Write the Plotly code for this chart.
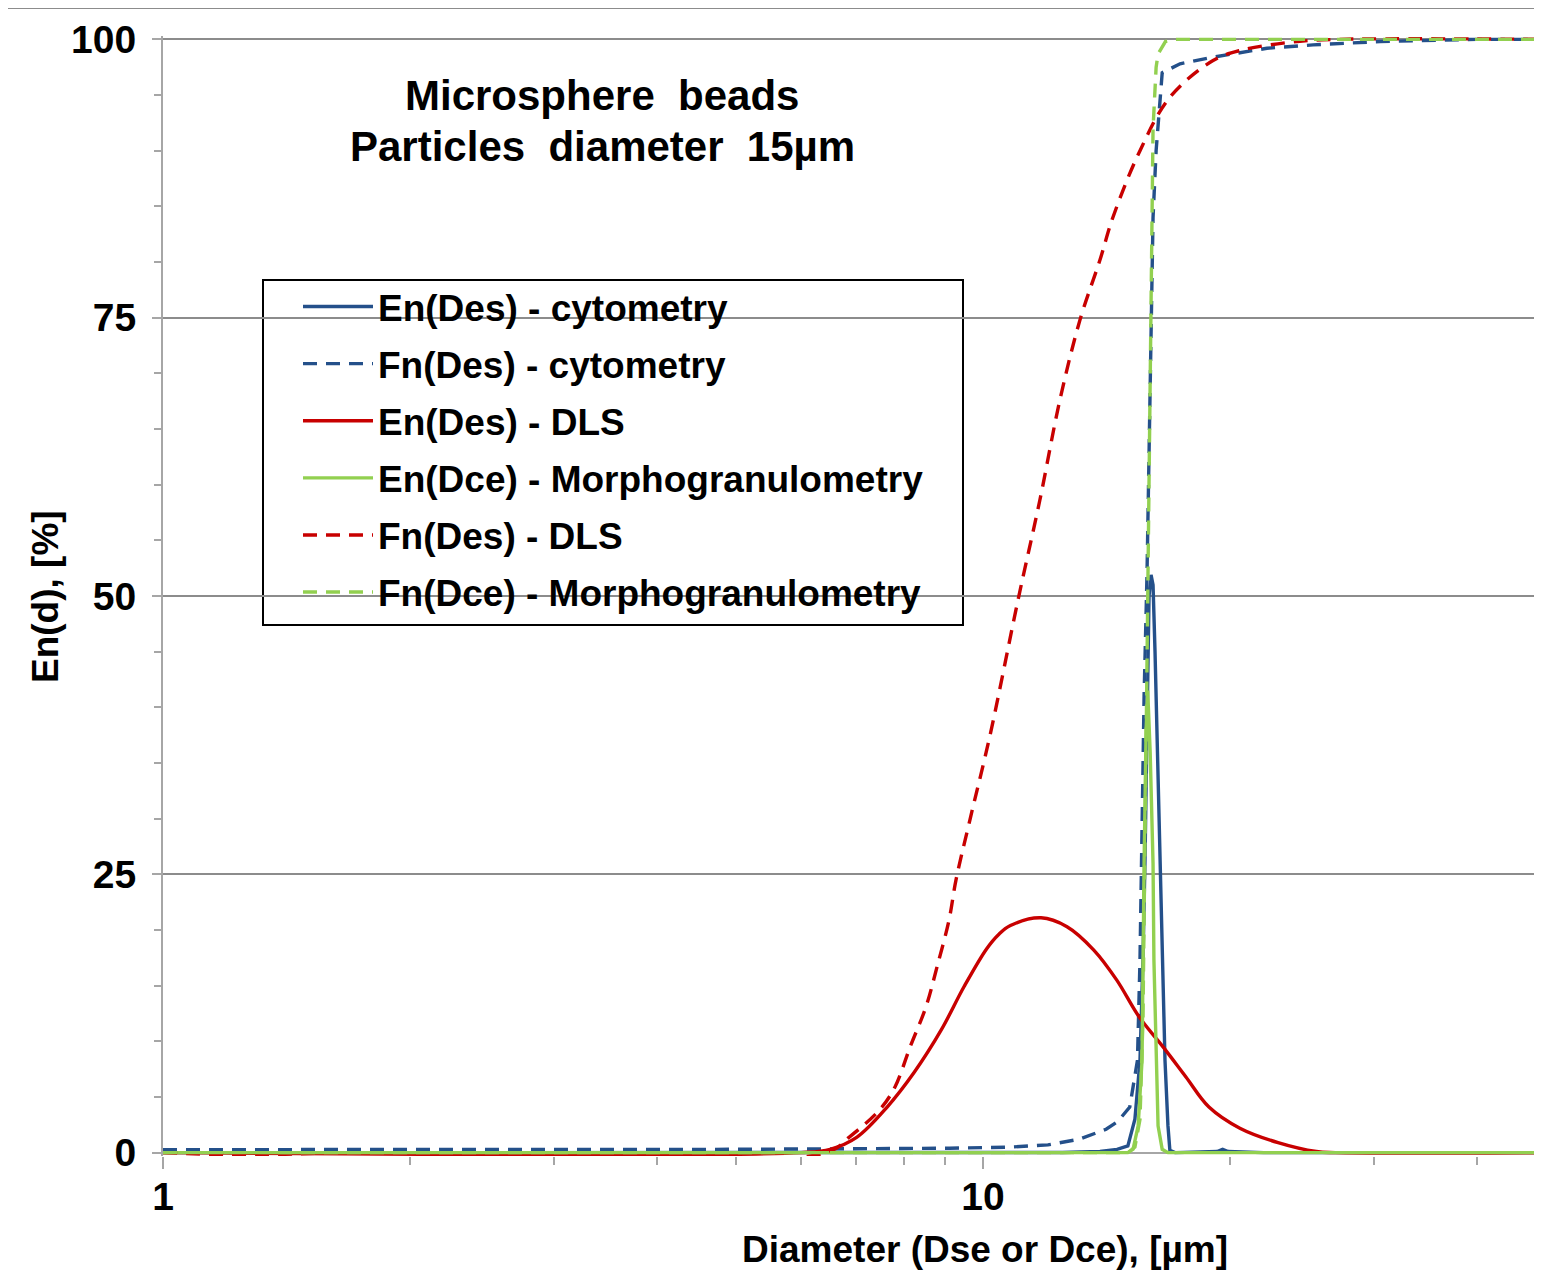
import numpy as np
import plotly.graph_objects as go

# ---------------- data ----------------
# En(Des) - cytometry
x_cyto_en = [1, 10, 12.5, 13.89, 14.57, 15.02, 15.32, 15.54, 15.67, 15.76, 15.85, 15.94, 16.03,
             16.12, 16.21, 16.35, 16.45, 16.54, 16.67, 16.81, 16.9, 17.15, 18.5, 19.3, 19.6, 19.9, 22, 48]
y_cyto_en = [0, 0, 0.02, 0.1, 0.3, 0.6, 3, 8.3, 17.3, 26.3, 40, 50, 51.9,
             51, 45, 33, 26.3, 17.3, 8.3, 2.4, 0.2, 0, 0.05, 0.1, 0.3, 0.1, 0, 0]

# Fn(Des) - cytometry
x_cyto_fn = [1, 5, 9.1, 10.8, 12.0, 13.09, 14.13, 14.6, 15.1, 15.43, 15.54, 15.62, 15.72, 15.85,
             16.0, 16.12, 16.26, 16.54, 17.39, 19.08, 22.2, 25.26, 30.49, 40, 48]
y_cyto_fn = [0.27, 0.3, 0.4, 0.5, 0.7, 1.2, 2.1, 2.8, 4.1, 8.3, 17.3, 27, 41, 52,
             70, 84, 90, 97, 97.8, 98.4, 99.2, 99.5, 99.8, 100, 100]

# En(Des) - DLS
x_dls_en = [1, 6.0, 6.51, 7.02, 7.64, 8.24, 8.89, 9.48, 10.1, 10.45, 10.8, 11.77, 12.66, 13.65,
            14.56, 15.5, 16.58, 17.68, 18.86, 20.57, 22.9, 25.5, 26.9, 48]
y_dls_en = [0, 0, 0.3, 1.4, 4.1, 7.2, 11.0, 14.9, 18.3, 19.6, 20.4, 21.1, 20.3, 18.2,
            15.5, 12.2, 9.5, 6.8, 4.1, 2.2, 0.9, 0.1, 0, 0]

# En(Dce) - Morphogranulometry
x_morph_en = [1, 15.02, 15.24, 15.46, 15.63, 15.67, 15.72, 15.81, 15.88, 15.99, 16.12, 16.16,
              16.26, 16.35, 16.54, 16.81, 48]
y_morph_en = [0, 0, 0.3, 2.4, 8.3, 17.3, 26, 38, 41.5, 36, 26, 17.3,
              8.3, 2.4, 0.3, 0, 0]

# Fn(Des) - DLS
x_dls_fn = [1, 6.44, 6.87, 7.49, 7.81, 8.15, 8.52, 8.79, 9.09, 9.27, 9.64, 10.2, 11.03, 11.73,
            12.41, 13.13, 13.89, 14.40, 15.54, 16.9, 19.08, 20.58, 24.15, 27.2, 48]
y_dls_fn = [0, 0, 1.4, 3.9, 5.9, 9.5, 13.1, 16.7, 20.9, 24.5, 29.9, 37.5, 49.6, 58.6,
            67.6, 74.8, 80.2, 84.0, 90.0, 94.8, 98.1, 99.0, 99.8, 100, 100]

# Fn(Dce) - Morphogranulometry
x_morph_fn = [1, 15.02, 15.32, 15.54, 15.67, 15.76, 15.85, 15.94, 16.03, 16.07, 16.12, 16.26,
              16.35, 16.69, 17.15, 48]
y_morph_fn = [0, 0, 0.5, 3, 12, 27, 45, 60, 75, 84, 92, 97.5,
              98.7, 99.8, 100, 100]

series_names = ["En(Des) - cytometry", "Fn(Des) - cytometry", "En(Des) - DLS",
                "En(Dce) - Morphogranulometry", "Fn(Des) - DLS", "Fn(Dce) - Morphogranulometry"]

title_lines = ["Microsphere\u00a0 beads", "Particles\u00a0 diameter\u00a0 15µm"]
x_title = "Diameter (Dse or Dce), [µm]"
y_title = "En(d), [%]"
x_major = [1, 10]
x_minor = [2, 3, 4, 5, 6, 7, 8, 9, 20, 30, 40]
y_major = [0, 25, 50, 75, 100]

# ---------------- styling ----------------
BLUE = "#24508A"
RED = "#C80000"
GREEN = "#92D050"
FONT = "Liberation Sans, Arial, sans-serif"
DASH = "14px,9px"
GRID = "#8C8C8C"
AX = "#A6A6A6"

OFF = 8                      # page body margin of the browser
W, H = 1542 - OFF, 1279 - 2 * OFF
PLOT_LEFT, PLOT_TOP, PLOT_BOTTOM = 163, 36, 1156   # screen pixels
L, T, R = PLOT_LEFT - OFF, PLOT_TOP - OFF, 0
B = H - (PLOT_BOTTOM - OFF)
PW, PH = W - L - R, H - T - B
Y0, Y1 = -0.3, 100.3
X_MAX = 10 ** ((1542 - PLOT_LEFT) / 820.0)


def px_x(px):  # reference screen pixel -> paper x
    return (px - OFF - L) / PW


def px_y(py):  # reference screen pixel -> paper y
    return (H - B - (py - OFF)) / PH


specs = [
    (x_cyto_en, y_cyto_en, BLUE, "solid", "linear"),
    (x_cyto_fn, y_cyto_fn, BLUE, DASH, "linear"),
    (x_dls_en, y_dls_en, RED, "solid", "spline"),
    (x_morph_en, y_morph_en, GREEN, "solid", "linear"),
    (x_dls_fn, y_dls_fn, RED, DASH, "spline"),
    (x_morph_fn, y_morph_fn, GREEN, DASH, "linear"),
]

fig = go.Figure()
for i, (xs, ys, col, dash, shape) in enumerate(specs):
    fig.add_trace(go.Scatter(
        x=xs, y=ys, mode="lines", name=series_names[i], legendgroup=f"g{i}",
        line=dict(color=col, width=3.4, dash=dash, shape=shape,
                  smoothing=1.0 if shape == "spline" else None),
    ))

tickfont = dict(family=FONT, size=39, color="black", weight="bold")
labfont = dict(family=FONT, size=37, color="black", weight="bold")
titlefont = dict(family=FONT, size=42, color="black", weight="bold")

fig.update_layout(
    width=W, height=H,
    margin=dict(l=L, r=R, t=T, b=B),
    paper_bgcolor="white", plot_bgcolor="white",
    showlegend=True,
    legend=dict(
        x=px_x(298), y=px_y(276), xanchor="left", yanchor="top",
        bgcolor="rgba(0,0,0,0)", borderwidth=0,
        font=labfont, tracegroupgap=6, itemwidth=70,
    ),
    xaxis=dict(
        type="log", range=[0, np.log10(X_MAX)],
        tickvals=x_major, ticktext=[str(v) for v in x_major],
        ticks="outside", ticklen=12, tickwidth=2, tickcolor=AX,
        showline=False, showgrid=False, zeroline=False,
        tickfont=tickfont, ticklabelstandoff=-6,
        minor=dict(tickvals=x_minor, ticks="outside", ticklen=8, tickwidth=2,
                   tickcolor=AX, showgrid=False),
        layer="below traces",
    ),
    yaxis=dict(
        range=[Y0, Y1], tickvals=y_major, ticktext=[str(v) for v in y_major],
        ticks="outside", ticklen=9, tickwidth=2, tickcolor=AX,
        showline=True, linecolor=AX, linewidth=2,
        showgrid=True, gridcolor=GRID, gridwidth=1.5,
        zeroline=True, zerolinecolor=AX, zerolinewidth=2,
        tickfont=tickfont, ticklabelstandoff=8,
        minor=dict(dtick=5, ticks="outside", ticklen=7, tickwidth=2,
                   tickcolor=AX, showgrid=False),
        layer="below traces",
    ),
    shapes=[
        # outer chart frame
        dict(type="rect", xref="paper", yref="paper",
             x0=px_x(7), x1=px_x(1600), y0=px_y(1320), y1=px_y(8),
             line=dict(color="#8C8C8C", width=2), fillcolor="rgba(0,0,0,0)", layer="below"),
        # legend frame
        dict(type="rect", xref="paper", yref="paper",
             x0=px_x(263), x1=px_x(963), y0=px_y(625), y1=px_y(280),
             line=dict(color="black", width=2), fillcolor="white", layer="below"),
    ],
    annotations=[
        dict(text=title_lines[0], xref="paper", yref="paper", x=px_x(602), y=px_y(95),
             xanchor="center", yanchor="middle", showarrow=False, font=titlefont),
        dict(text=title_lines[1], xref="paper", yref="paper", x=px_x(602), y=px_y(147),
             xanchor="center", yanchor="middle", showarrow=False, font=titlefont),
        dict(text=x_title, xref="paper", yref="paper", x=px_x(985), y=px_y(1249),
             xanchor="center", yanchor="middle", showarrow=False, font=labfont),
        dict(text=y_title, xref="paper", yref="paper", x=px_x(45), y=px_y(597),
             xanchor="center", yanchor="middle", showarrow=False, textangle=-90, font=labfont),
    ],
)

fig.write_html("out.html")
